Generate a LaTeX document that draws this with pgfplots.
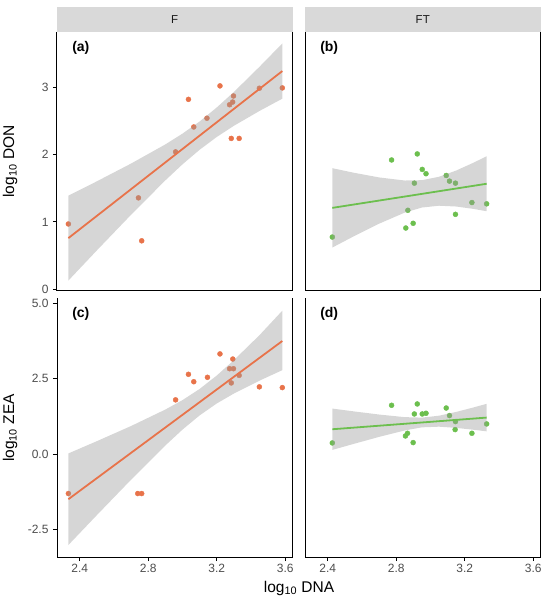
\documentclass[border=0pt]{standalone}
\usepackage{pgfplots}
\pgfplotsset{compat=1.18}
\usepackage{fontspec}
\setmainfont{Liberation Sans}
\definecolor{orangeF}{HTML}{E8734A}
\definecolor{greenFT}{HTML}{6CBF4E}
\definecolor{stripgray}{HTML}{D9D9D9}
\definecolor{ticklab}{HTML}{4D4D4D}
\definecolor{ribbon}{HTML}{999999}
\definecolor{striptext}{HTML}{1A1A1A}
\pgfplotsset{
  panel/.style={
    scale only axis, width=235.5bp, height=259bp,
    xmin=2.2675, xmax=3.6425,
    axis lines*=left,
    axis line style={black, line width=1bp},
    tick align=outside,
    major tick length=4bp,
    tick style={black, line width=1bp},
    tick label style={font=\fontsize{12bp}{14bp}\selectfont, text=ticklab},
    yticklabel style={xshift=-1bp},
    clip mode=individual,
  },
  ptsF/.style={only marks, mark=*, mark size=2.5bp, color=orangeF},
  ptsG/.style={only marks, mark=*, mark size=2.5bp, color=greenFT},
  rib/.style={fill=ribbon, fill opacity=0.4, draw=none},
  fitF/.style={orangeF, line width=1.8bp, no marks},
  fitG/.style={greenFT, line width=1.8bp, no marks},
}
\newcommand{\panelrightline}{\draw[black, line width=1bp] (rel axis cs:1,0) -- (rel axis cs:1,1);}
\begin{document}
\begin{tikzpicture}
\path[use as bounding box] (0,0) rectangle (550bp,605bp);

% (a) F, DON
\begin{axis}[panel, at={(57bp,314bp)}, anchor=south west,
  ymin=-0.025, ymax=3.82, xtick=\empty,
  ytick={0,1,2,3}, yticklabels={0,1,2,3}]
\addplot[ptsF] coordinates {
(2.334,0.97) (2.743,1.358) (2.762,0.72) (2.96,2.04) (3.035,2.82)
(3.066,2.41) (3.143,2.54) (3.219,3.02) (3.275,2.74) (3.293,2.78)
(3.298,2.87) (3.285,2.24) (3.331,2.24) (3.449,2.985) (3.583,2.99)};
\addplot[rib] coordinates {
(2.334,1.39) (2.5,1.603) (2.7,1.867) (2.9,2.151) (3.0,2.311) (3.1,2.491)
(3.2,2.699) (3.3,2.929) (3.45,3.304) (3.583,3.65)
(3.583,2.83) (3.45,2.648) (3.3,2.427) (3.2,2.261) (3.1,2.071) (3.0,1.855)
(2.9,1.617) (2.7,1.107) (2.5,0.577) (2.334,0.13)} -- cycle;
\addplot[fitF] coordinates {(2.334,0.76) (3.583,3.24)};
\panelrightline
\node[anchor=north west, inner sep=0pt, font=\fontsize{14bp}{16bp}\selectfont\bfseries] at (rel axis cs:0.064,0.965) {(a)};
\end{axis}

% (b) FT, DON
\begin{axis}[panel, at={(305bp,314bp)}, anchor=south west,
  ymin=-0.025, ymax=3.82, xtick=\empty, ytick=\empty]
\addplot[ptsG] coordinates {
(2.427,0.776) (2.773,1.92) (2.923,2.01) (2.952,1.78) (2.974,1.716)
(2.906,1.576) (2.868,1.173) (2.899,0.98) (2.856,0.91) (3.092,1.69)
(3.111,1.606) (3.146,1.576) (3.146,1.113) (3.242,1.288) (3.328,1.269)};
\addplot[rib] coordinates {
(2.427,1.798) (2.55,1.732) (2.7,1.661) (2.85,1.615) (2.95,1.620)
(3.05,1.671) (3.15,1.763) (3.25,1.878) (3.328,1.975)
(3.328,1.159) (3.25,1.194) (3.15,1.229) (3.05,1.241) (2.95,1.214)
(2.85,1.139) (2.7,0.974) (2.55,0.784) (2.427,0.620)} -- cycle;
\addplot[fitG] coordinates {(2.427,1.209) (3.328,1.567)};
\panelrightline
\node[anchor=north west, inner sep=0pt, font=\fontsize{14bp}{16bp}\selectfont\bfseries] at (rel axis cs:0.064,0.965) {(b)};
\end{axis}

% (c) F, ZEA
\begin{axis}[panel, at={(57bp,48bp)}, anchor=south west,
  ymin=-3.40, ymax=5.17,
  xtick={2.4,2.8,3.2,3.6}, xticklabels={2.4,2.8,3.2,3.6},
  ytick={-2.5,0,2.5,5}, yticklabels={-2.5,0.0,2.5,5.0}]
\addplot[ptsF] coordinates {
(2.334,-1.30) (2.739,-1.30) (2.762,-1.30) (2.96,1.80) (3.035,2.645)
(3.066,2.40) (3.146,2.546) (3.219,3.32) (3.275,2.83) (3.298,2.83)
(3.294,3.15) (3.285,2.36) (3.331,2.61) (3.449,2.23) (3.583,2.205)};
\addplot[rib] coordinates {
(2.334,0.027) (2.5,0.432) (2.7,0.934) (2.9,1.479) (3.0,1.791) (3.1,2.160)
(3.2,2.604) (3.3,3.112) (3.45,3.942) (3.583,4.75)
(3.583,2.782) (3.45,2.436) (3.3,2.008) (3.2,1.679) (3.1,1.284) (3.0,0.815)
(2.9,0.289) (2.7,-0.842) (2.5,-2.016) (2.334,-3.003)} -- cycle;
\addplot[fitF] coordinates {(2.334,-1.488) (3.583,3.747)};
\panelrightline
\node[anchor=north west, inner sep=0pt, font=\fontsize{14bp}{16bp}\selectfont\bfseries] at (rel axis cs:0.064,0.965) {(c)};
\end{axis}

% (d) FT, ZEA
\begin{axis}[panel, at={(305bp,48bp)}, anchor=south west,
  ymin=-3.40, ymax=5.17,
  xtick={2.4,2.8,3.2,3.6}, xticklabels={2.4,2.8,3.2,3.6},
  ytick=\empty]
\addplot[ptsG] coordinates {
(2.427,0.374) (2.773,1.62) (2.923,1.664) (2.906,1.333) (2.952,1.333)
(2.974,1.356) (2.866,0.694) (2.854,0.605) (2.899,0.386) (3.092,1.53)
(3.111,1.28) (3.146,1.08) (3.144,0.816) (3.242,0.694) (3.328,1.003)};
\addplot[rib] coordinates {
(2.427,1.511) (2.55,1.420) (2.7,1.314) (2.85,1.228) (2.95,1.212)
(3.05,1.276) (3.15,1.400) (3.25,1.547) (3.328,1.668)
(3.328,0.758) (3.25,0.811) (3.15,0.872) (3.05,0.912) (2.95,0.890)
(2.85,0.788) (2.7,0.574) (2.55,0.340) (2.427,0.143)} -- cycle;
\addplot[fitG] coordinates {(2.427,0.827) (3.328,1.213)};
\panelrightline
\node[anchor=north west, inner sep=0pt, font=\fontsize{14bp}{16bp}\selectfont\bfseries] at (rel axis cs:0.064,0.965) {(d)};
\end{axis}

% strips
\fill[stripgray] (57bp,573bp) rectangle (292.5bp,598bp);
\fill[stripgray] (305bp,573bp) rectangle (540.5bp,598bp);
\node[text=striptext, font=\fontsize{11.5bp}{13bp}\selectfont] at (174.75bp,585.5bp) {F};
\node[text=striptext, font=\fontsize{11.5bp}{13bp}\selectfont] at (422.75bp,585.5bp) {FT};

% axis titles
\node[anchor=base, font=\fontsize{15.5bp}{18bp}\selectfont] at (299bp,12.7bp) {log\textsubscript{10} DNA};
\node[rotate=90, anchor=base, font=\fontsize{15.5bp}{18bp}\selectfont] at (14bp,443.5bp) {log\textsubscript{10} DON};
\node[rotate=90, anchor=base, font=\fontsize{15.5bp}{18bp}\selectfont] at (14bp,177bp) {log\textsubscript{10} ZEA};
\end{tikzpicture}
\end{document}
